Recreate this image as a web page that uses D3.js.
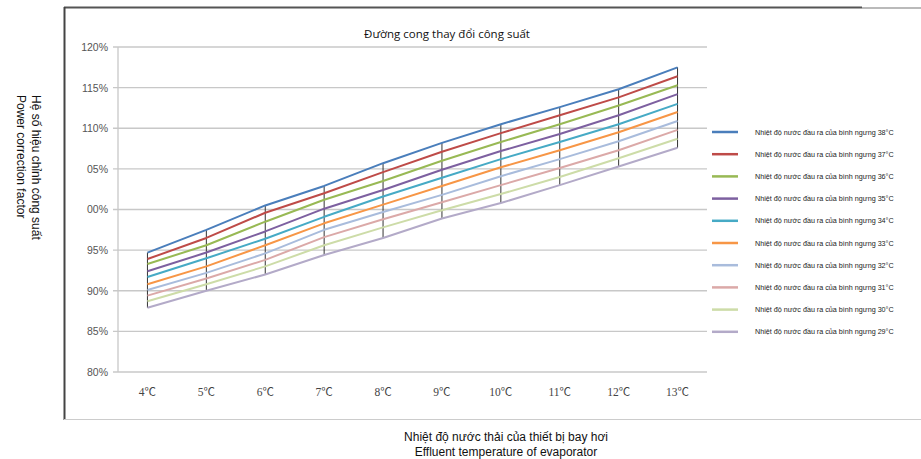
<!DOCTYPE html>
<html>
<head>
<meta charset="utf-8">
<script src="https://cdn.jsdelivr.net/npm/d3@7/dist/d3.min.js"></script>
<style>
  html, body { margin: 0; padding: 0; background: #fff; }
  svg { display: block; }
</style>
</head>
<body>
<svg id="chart" width="921" height="459"></svg>
<script>
// Evaporator effluent temperature (x axis categories)
const categories = ["4℃", "5℃", "6℃", "7℃", "8℃", "9℃", "10℃", "11℃", "12℃", "13℃"];

// Power correction factor (%) for each condenser outlet water temperature
const s38 = [94.7, 97.5, 100.5, 102.9, 105.7, 108.2, 110.5, 112.6, 114.8, 117.5];
const s37 = [93.9, 96.5, 99.6, 102.0, 104.6, 107.1, 109.4, 111.6, 113.8, 116.4];
const s36 = [93.3, 95.6, 98.5, 101.2, 103.5, 106.0, 108.3, 110.5, 112.8, 115.3];
const s35 = [92.4, 94.7, 97.3, 100.1, 102.4, 104.9, 107.2, 109.3, 111.6, 114.2];
const s34 = [91.7, 94.0, 96.4, 99.1, 101.6, 103.9, 106.2, 108.3, 110.5, 113.0];
const s33 = [90.8, 93.0, 95.6, 98.3, 100.6, 102.9, 105.2, 107.3, 109.5, 112.0];
const s32 = [90.1, 92.2, 94.6, 97.5, 99.7, 101.8, 104.1, 106.2, 108.4, 110.9];
const s31 = [89.4, 91.5, 93.8, 96.6, 98.8, 100.9, 103.0, 105.1, 107.3, 109.8];
const s30 = [88.7, 90.8, 93.0, 95.6, 97.8, 99.9, 101.9, 104.0, 106.3, 108.7];
const s29 = [87.9, 90.0, 92.0, 94.4, 96.5, 98.9, 100.8, 103.0, 105.3, 107.6];

const seriesNames = [
  "Nhiệt độ nước đầu ra của bình ngưng 38°C",
  "Nhiệt độ nước đầu ra của bình ngưng 37°C",
  "Nhiệt độ nước đầu ra của bình ngưng 36°C",
  "Nhiệt độ nước đầu ra của bình ngưng 35°C",
  "Nhiệt độ nước đầu ra của bình ngưng 34°C",
  "Nhiệt độ nước đầu ra của bình ngưng 33°C",
  "Nhiệt độ nước đầu ra của bình ngưng 32°C",
  "Nhiệt độ nước đầu ra của bình ngưng 31°C",
  "Nhiệt độ nước đầu ra của bình ngưng 30°C",
  "Nhiệt độ nước đầu ra của bình ngưng 29°C"
];
const seriesColors = ["#4a7ebb", "#be4b48", "#98b954", "#7d60a0", "#46aac5",
                      "#f79646", "#a9bcdc", "#dba9a8", "#cddca8", "#b3aac8"];

// Y axis ticks and their printed labels
const yTicks = [80, 85, 90, 95, 100, 105, 110, 115, 120];
const yTickLabels = ["80%", "85%", "90%", "95%", "00%", "05%", "110%", "115%", "120%"];

const title = "Đường cong thay đổi công suất";
const yTitle = ["Hệ số hiệu chỉnh công suất", "Power correction factor"];
const xTitle = ["Nhiệt độ nước thải của thiết bị bay hơi", "Effluent temperature of evaporator"];

const seriesValues = [s38, s37, s36, s35, s34, s33, s32, s31, s30, s29];

const svg = d3.select("#chart");

// Outer frame
svg.append("line").attr("x1", 64).attr("x2", 862).attr("y1", 7.5).attr("y2", 7.5)
  .attr("stroke", "#555").attr("stroke-width", 2);
svg.append("line").attr("x1", 862).attr("x2", 921).attr("y1", 8).attr("y2", 8)
  .attr("stroke", "#777").attr("stroke-width", 1.2);
svg.append("line").attr("x1", 64.5).attr("x2", 64.5).attr("y1", 7).attr("y2", 420)
  .attr("stroke", "#444").attr("stroke-width", 2);
svg.append("line").attr("x1", 64).attr("x2", 921).attr("y1", 419.5).attr("y2", 419.5)
  .attr("stroke", "#ccc").attr("stroke-width", 1);

const plot = { left: 118, right: 707, top: 47, bottom: 372 };

const x = d3.scaleBand().domain(categories).range([plot.left, plot.right]);
const y = d3.scaleLinear().domain([80, 120]).range([plot.bottom, plot.top]);

// Horizontal gridlines
svg.append("g").selectAll("line").data(yTicks).join("line")
  .attr("x1", plot.left - 5).attr("x2", plot.right)
  .attr("y1", d => y(d)).attr("y2", d => y(d))
  .attr("stroke", "#c8c8c8").attr("stroke-width", 1.3);

// Y axis line
svg.append("line").attr("x1", plot.left).attr("x2", plot.left)
  .attr("y1", plot.top).attr("y2", plot.bottom)
  .attr("stroke", "#c8c8c8").attr("stroke-width", 1.3);

// Y tick labels
const yAxis = d3.axisLeft(y).tickValues(yTicks)
  .tickFormat((d, i) => yTickLabels[i]).tickSize(0).tickPadding(10);
const gy = svg.append("g").attr("transform", `translate(${plot.left},0)`).call(yAxis);
gy.select(".domain").remove();
gy.selectAll("text").attr("fill", "#555")
  .style("font-family", "'Liberation Sans', Arial, sans-serif").style("font-size", "10.5px");

// X tick labels
const xAxis = d3.axisBottom(x).tickSize(0).tickPadding(0);
const gx = svg.append("g").attr("transform", `translate(0,388)`).call(xAxis);
gx.select(".domain").remove();
gx.selectAll("text").attr("fill", "#444")
  .style("font-family", "'Liberation Serif', 'Noto Sans CJK SC', serif").style("font-size", "11.5px");

// Title box
svg.append("rect").attr("x", 313).attr("y", 14).attr("width", 269).attr("height", 32)
  .attr("fill", "#fff");
svg.append("text").attr("x", 447).attr("y", 38).attr("text-anchor", "middle")
  .attr("fill", "#111")
  .style("font-family", "'Open Sans', 'Noto Sans', sans-serif").style("font-size", "11.5px")
  .text(title);

// High-low lines joining top and bottom series at each category
const cx = c => x(c) + x.bandwidth() / 2;
svg.append("g").selectAll("line").data(categories).join("line")
  .attr("x1", d => cx(d)).attr("x2", d => cx(d))
  .attr("y1", (d, i) => y(d3.max(seriesValues, s => s[i])))
  .attr("y2", (d, i) => y(d3.min(seriesValues, s => s[i])))
  .attr("stroke", "#333").attr("stroke-width", 1);

// Series lines (bottom series drawn first)
const line = d3.line().x((d, i) => cx(categories[i])).y(d => y(d));
svg.append("g").selectAll("path").data(seriesValues.map((v, i) => ({ v, i })).reverse())
  .join("path")
  .attr("d", d => line(d.v))
  .attr("fill", "none")
  .attr("stroke", d => seriesColors[d.i])
  .attr("stroke-width", 2)
  .attr("stroke-linejoin", "round");

// Legend
const legend = svg.append("g");
const rowY = i => 132 + i * 22.2;
legend.selectAll("line").data(seriesNames).join("line")
  .attr("x1", 712).attr("x2", 738)
  .attr("y1", (d, i) => rowY(i)).attr("y2", (d, i) => rowY(i))
  .attr("stroke", (d, i) => seriesColors[i]).attr("stroke-width", 2.5);
legend.selectAll("text").data(seriesNames).join("text")
  .attr("x", 755).attr("y", (d, i) => rowY(i) + 2.5)
  .attr("fill", "#222")
  .style("font-family", "'Liberation Sans', Arial, sans-serif").style("font-size", "7.2px")
  .text(d => d);

// Axis titles
const yt = svg.append("text")
  .style("font-family", "'Liberation Sans', Arial, sans-serif").style("font-size", "12px")
  .attr("fill", "#111");
yt.selectAll("tspan").data(yTitle).join("tspan")
  .attr("x", 95).attr("y", (d, i) => -32 + i * 15)
  .text(d => d);
yt.attr("transform", "rotate(90)");

svg.append("text").attr("text-anchor", "middle")
  .style("font-family", "'Liberation Sans', Arial, sans-serif").style("font-size", "12px")
  .attr("fill", "#111")
  .selectAll("tspan").data(xTitle).join("tspan")
  .attr("x", 506).attr("y", (d, i) => 441 + i * 14.5)
  .text(d => d);
</script>
</body>
</html>
